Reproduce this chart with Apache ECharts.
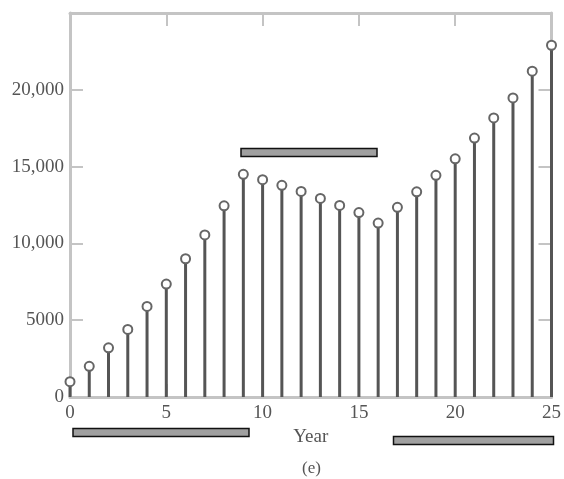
<!DOCTYPE html>
<html>
<head>
<meta charset="utf-8">
<script src="https://cdn.jsdelivr.net/npm/echarts@6/dist/echarts.min.js"></script>
<style>
html,body{margin:0;padding:0;background:#fff;}
#chart{width:564px;height:479px;}
</style>
</head>
<body>
<div id="chart"></div>
<script>
var years = [0,1,2,3,4,5,6,7,8,9,10,11,12,13,14,15,16,17,18,19,20,21,22,23,24,25];
var values = [1000,2000,3200,4400,5900,7350,9000,10550,12450,14500,14150,13780,13380,12930,12470,12010,11320,12350,13360,14430,15510,16860,18170,19470,21210,22900];
var xTicks = [0,5,10,15,20,25];
var yTickLabels = {0:'0',5000:'5000',10000:'10,000',15000:'15,000',20000:'20,000'};

var pts = years.map(function(y,i){return [y, values[i]];});
var font = 'Liberation Serif';
var axisGray = '#c4c4c4';
var txt = '#555';

var chart = echarts.init(document.getElementById('chart'));
chart.setOption({
  animation:false,
  backgroundColor:'#fff',
  grid:{left:70,right:12,top:13,bottom:82},
  xAxis:[{
    type:'value',min:0,max:25,interval:5,position:'bottom',
    name:'Year',nameLocation:'middle',nameGap:31,
    nameTextStyle:{fontFamily:font,fontSize:19,color:txt},
    axisLine:{show:true,onZero:false,lineStyle:{color:axisGray,width:3}},
    axisTick:{show:true,inside:true,length:13,lineStyle:{color:axisGray,width:2}},
    axisLabel:{fontFamily:font,fontSize:19,color:txt,margin:7},
    splitLine:{show:false}
  },{
    type:'value',min:0,max:25,interval:5,position:'top',
    axisLine:{show:true,onZero:false,lineStyle:{color:axisGray,width:3}},
    axisTick:{show:true,inside:true,length:13,lineStyle:{color:axisGray,width:2}},
    axisLabel:{show:false},splitLine:{show:false}
  }],
  yAxis:[{
    type:'value',min:0,max:25000,interval:5000,position:'left',
    axisLine:{show:true,onZero:false,lineStyle:{color:axisGray,width:3}},
    axisTick:{show:true,inside:true,length:13,lineStyle:{color:axisGray,width:2}},
    axisLabel:{fontFamily:font,fontSize:19,color:txt,margin:6,
      formatter:function(v){return yTickLabels[v]!==undefined?yTickLabels[v]:'';}},
    splitLine:{show:false}
  },{
    type:'value',min:0,max:25000,interval:5000,position:'right',
    axisLine:{show:true,onZero:false,lineStyle:{color:axisGray,width:3}},
    axisTick:{show:true,inside:true,length:13,lineStyle:{color:axisGray,width:2}},
    axisLabel:{show:false},splitLine:{show:false}
  }],
  series:[{
    type:'bar',xAxisIndex:0,yAxisIndex:0,data:pts,barWidth:3,
    itemStyle:{color:'#555'},z:2
  },{
    type:'scatter',xAxisIndex:0,yAxisIndex:0,data:pts,symbol:'circle',symbolSize:9,
    itemStyle:{color:'#fff',borderColor:'#666',borderWidth:2,opacity:1},z:3
  }],
  graphic:[
    {type:'rect',shape:{x:73,y:428.5,width:176,height:8},style:{fill:'#a0a0a0',stroke:'#111',lineWidth:1.5}},
    {type:'rect',shape:{x:241,y:148.5,width:136,height:8},style:{fill:'#a0a0a0',stroke:'#111',lineWidth:1.5}},
    {type:'rect',shape:{x:393.5,y:436.5,width:160,height:8},style:{fill:'#a0a0a0',stroke:'#111',lineWidth:1.5}},
    {type:'text',left:302,top:460,style:{text:'(e)',fontFamily:font,fontSize:17,fill:txt}}
  ]
});
</script>
</body>
</html>
